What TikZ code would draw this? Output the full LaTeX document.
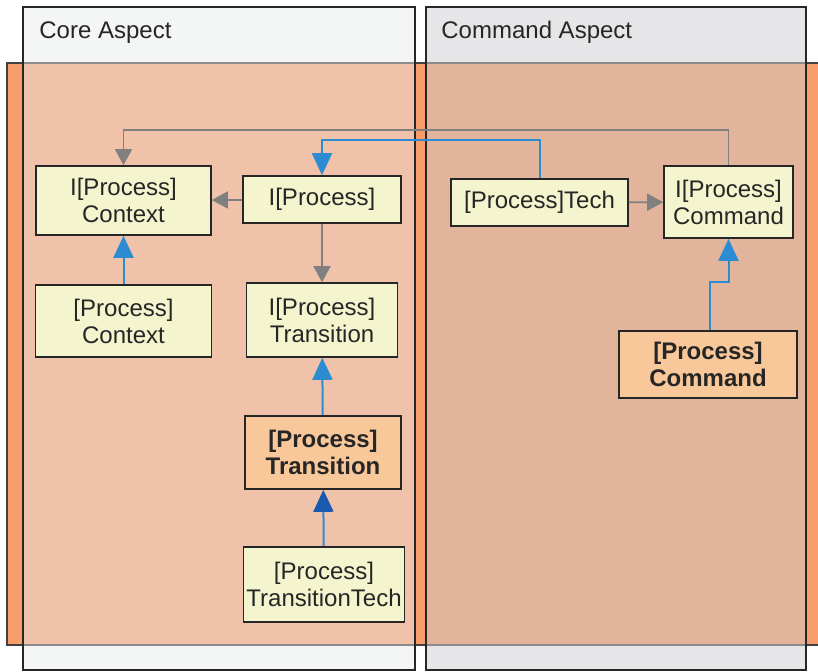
\documentclass[tikz,border=0pt]{standalone}
\usepackage{fontspec}
\setmainfont{Liberation Sans}
\usetikzlibrary{arrows.meta,positioning}

\definecolor{bandorange}{RGB}{247,157,107}
\definecolor{corehead}{RGB}{244,245,245}
\definecolor{corebody}{RGB}{241,194,170}
\definecolor{cmdhead}{RGB}{230,230,232}
\definecolor{cmdbody}{RGB}{227,180,156}
\definecolor{clsyellow}{RGB}{244,245,206}
\definecolor{clsorange}{RGB}{249,200,154}
\definecolor{arrgrey}{RGB}{128,128,128}
\definecolor{arrblue}{RGB}{43,140,210}
\definecolor{arrdark}{RGB}{25,90,175}

\begin{document}
\begin{tikzpicture}[x=0.5pt,y=-0.5pt,
  cls/.style={draw=black!85,line width=0.8pt,fill=clsyellow,align=center,
    inner sep=0pt,text=black!85,font=\fontsize{12}{13.5}\selectfont},
  impl/.style={cls,fill=clsorange,font=\fontsize{12}{13.5}\selectfont\bfseries},
  lanelabel/.style={anchor=base west,inner sep=0pt,text=black!85,font=\fontsize{12}{13.5}\selectfont},
  gline/.style={draw=arrgrey,line width=0.9pt,-{Triangle[length=8pt,width=8.5pt]}},
  bline/.style={draw=arrblue,line width=1pt,-{Triangle[length=11pt,width=10pt]}}]
\useasboundingbox (0,0) rectangle (818,671);
% orange band behind the lanes
\fill[bandorange] (7,63) rectangle (818,645);
\draw[black!75,line width=0.6pt] (818,63) -- (7,63) -- (7,645) -- (818,645);
% Core Aspect lane
\fill[corehead] (23,7) rectangle (415,63);
\fill[corebody] (23,63) rectangle (415,645);
\fill[corehead] (23,645) rectangle (415,670);
\draw[black!45,line width=0.6pt] (23,63) -- (415,63) (23,645) -- (415,645);
\draw[black!85,line width=0.7pt] (23,7) rectangle (415,670);
% Command Aspect lane
\fill[cmdhead] (426,7) rectangle (806,63);
\fill[cmdbody] (426,63) rectangle (806,645);
\fill[cmdhead] (426,645) rectangle (806,670);
\draw[black!45,line width=0.6pt] (426,63) -- (806,63) (426,645) -- (806,645);
\draw[black!85,line width=0.7pt] (426,7) rectangle (806,670);

\node[lanelabel] (corelbl) at (39,38) {Core Aspect};
\node[lanelabel] (cmdlbl) at (441,38) {Command Aspect};

% classes
\node[cls,minimum width=87.5pt,minimum height=34.5pt] (ipctx) at (123.5,200.5) {I[Process]\\Context};
\node[cls,minimum width=79pt,minimum height=23.5pt] (iproc) at (322,199.5) {I[Process]};
\node[cls,minimum width=88pt,minimum height=36pt] (pctx) at (123.5,321) {[Process]\\Context};
\node[cls,minimum width=75.5pt,minimum height=37pt] (itrans) at (322,320) {I[Process]\\Transition};
\node[impl,minimum width=78pt,minimum height=36.5pt] (ptrans) at (323,452.5) {[Process]\\Transition};
\node[cls,minimum width=80.5pt,minimum height=37.5pt] (ptt) at (324,584.5) {[Process]\\TransitionTech};
\node[cls,minimum width=88.5pt,minimum height=23.5pt] (ptech) at (539.5,202.5) {[Process]Tech};
\node[cls,minimum width=64.5pt,minimum height=36pt] (icmd) at (728.5,202) {I[Process]\\Command};
\node[impl,minimum width=89pt,minimum height=33.5pt] (pcmd) at (708,364.5) {[Process]\\Command};

% connectors
\draw[gline] (icmd.north) -- ++(0,-35) -| (ipctx.north);
\draw[bline] (ptech.north) -- ++(0,-38) -| (iproc.north);
\draw[gline] (iproc) -- (ipctx);
\draw[gline] (iproc) -- (itrans);
\draw[bline] (pctx) -- (ipctx);
\draw[bline] (ptrans) -- (itrans);
\draw[bline,-{Triangle[length=11pt,width=10pt,color=arrdark]}] (ptt) -- (ptrans);
\draw[gline] (ptech) -- (icmd);
\draw[bline] ([xshift=1pt]pcmd.north) -- ++(0,-48) -| (icmd.south);
\end{tikzpicture}
\end{document}
